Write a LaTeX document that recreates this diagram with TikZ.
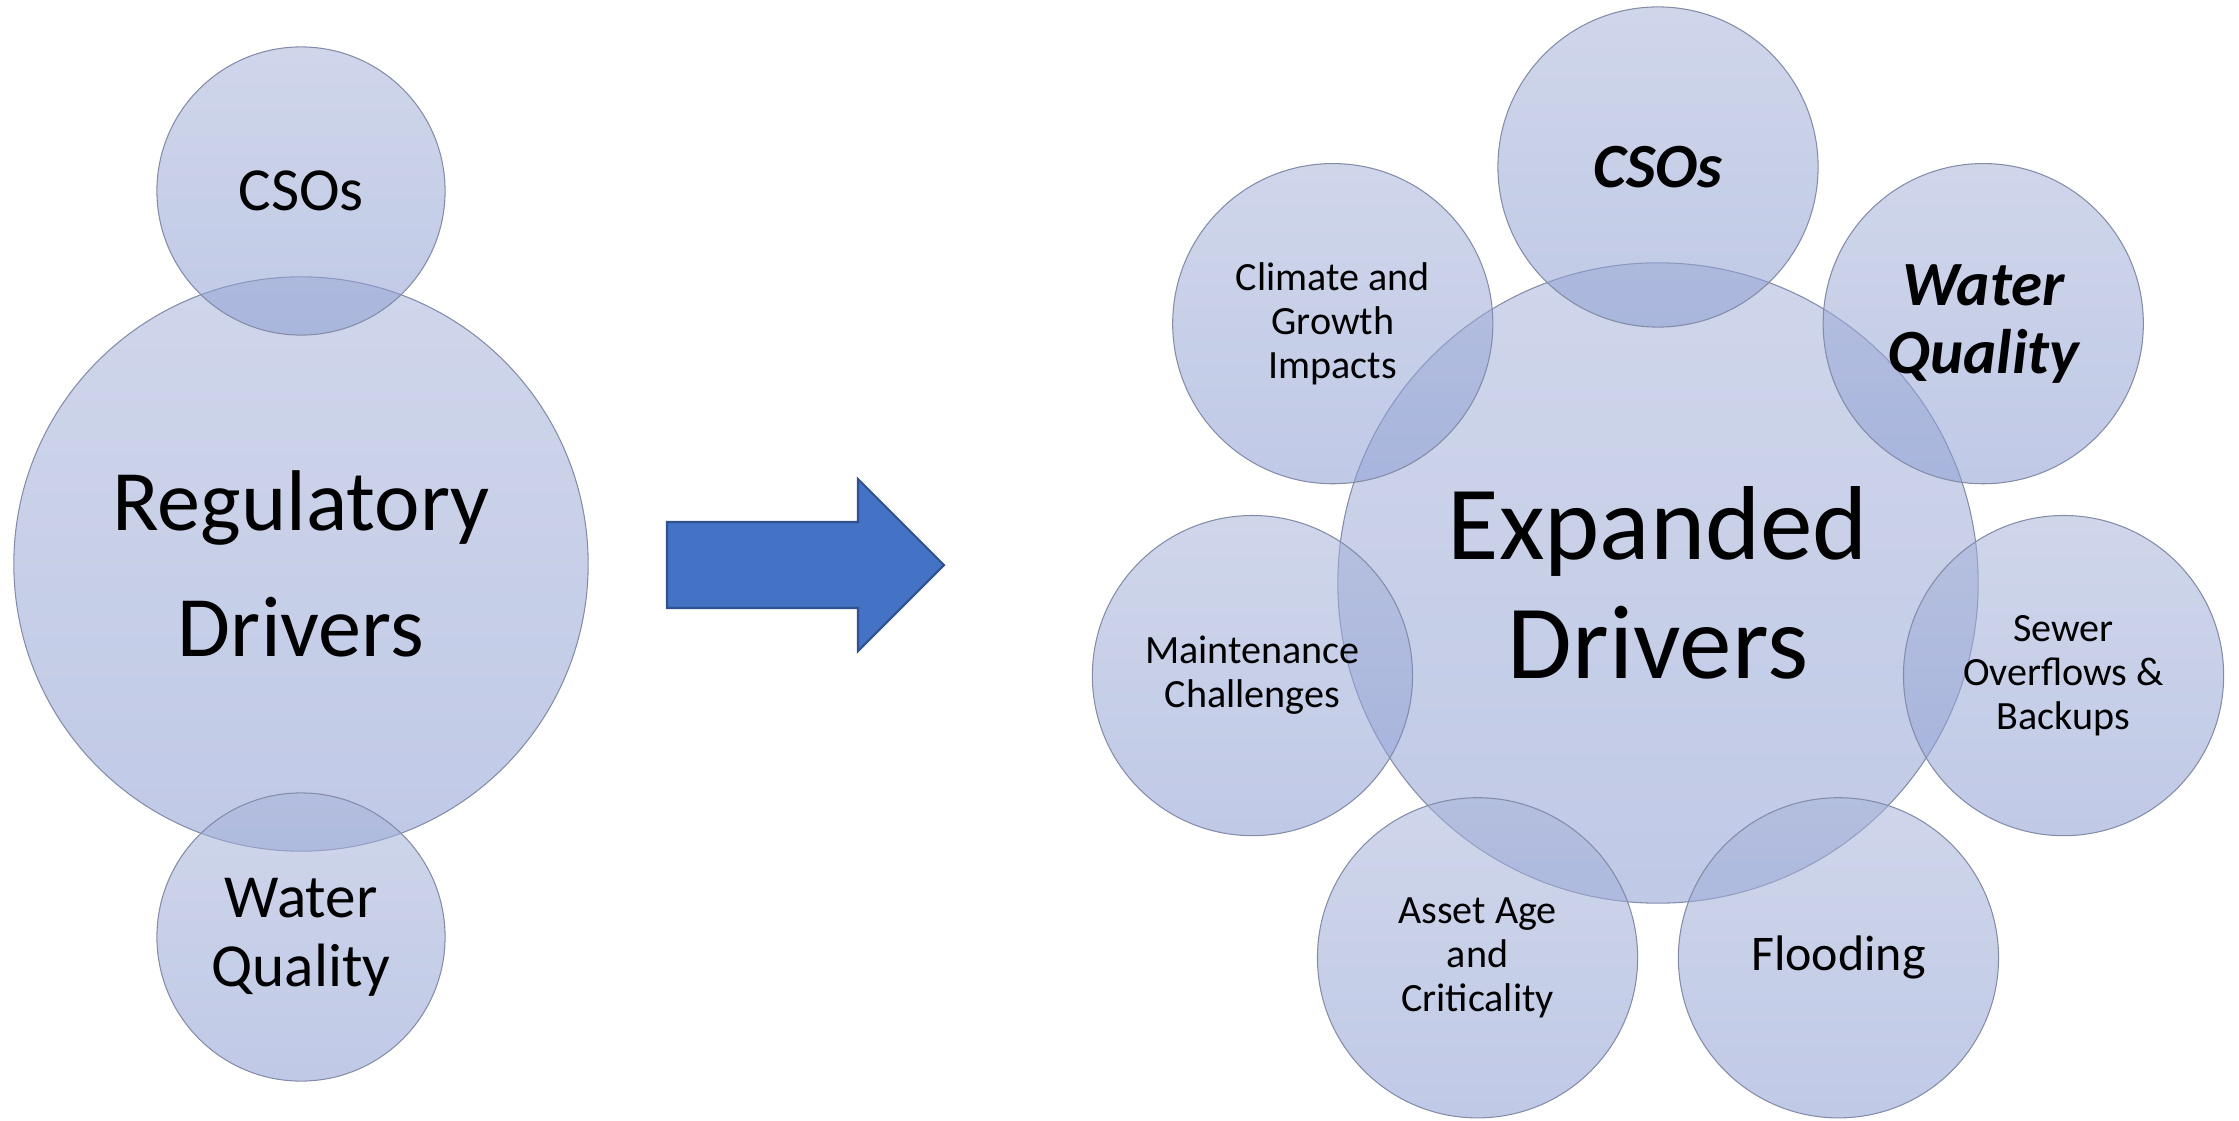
\documentclass[tikz,border=0pt]{standalone}
\usepackage{fontspec}
\setmainfont{Carlito}
\usetikzlibrary{calc}

\definecolor{ringtop}{RGB}{168,180,217}
\definecolor{ringbot}{RGB}{140,157,210}
\definecolor{ringline}{RGB}{132,140,168}
\definecolor{arrowfill}{RGB}{68,114,196}
\definecolor{arrowline}{RGB}{47,82,143}

\newcommand{\ringsmall}{\fontsize{11.4}{12.5}\selectfont}
\newcommand{\ringbold}{\fontsize{17.9}{19.3}\selectfont\bfseries\itshape}
\newcommand{\ringflood}{\fontsize{14.2}{15}\selectfont}

\begin{document}
\begin{tikzpicture}[x=0.01cm,y=0.01cm,
  ring/.style={circle,draw=ringline,line width=0.3pt,top color=ringtop,bottom color=ringbot,
    fill opacity=0.55,text opacity=1,align=center,inner sep=0pt}]
\useasboundingbox (0,0) rectangle (2239,1120);

% regulatory side
\node[ring,minimum size=5.74cm,font=\fontsize{24.5}{35.8}\selectfont] (Reg) at (301,556) {Regulatory\\Drivers};
\node[ring,minimum size=2.88cm,font=\fontsize{17.4}{19.6}\selectfont] (RegCSO) at (301,929) {CSOs};
\node[ring,minimum size=2.88cm,font=\fontsize{17.4}{19.6}\selectfont] (RegWQ) at (301,183) {Water\\Quality};

% block arrow
\draw[fill=arrowfill,draw=arrowline,line width=0.6pt] (667,598) -- (858,598) -- (858,641)
    -- (944,555) -- (858,469) -- (858,512) -- (667,512) -- cycle;

% expanded side
\node[ring,minimum size=6.4cm,font=\fontsize{29.9}{33.9}\selectfont] (Exp) at (1658,537) {Expanded\\Drivers};
\foreach \ang/\nm/\fnt/\txt in {90/ExpCSO/\ringbold/CSOs,
    38.57/ExpWQ/\ringbold/Water\\Quality,
    -12.86/ExpSewer/\ringsmall/Sewer\\Overflows \&\\Backups,
    -64.29/ExpFlood/\ringflood/Flooding,
    -115.71/ExpAsset/\ringsmall/Asset Age\\and\\Criticality,
    -167.14/ExpMaint/\ringsmall/Maintenance\\Challenges,
    141.43/ExpClimate/\ringsmall/Climate and\\Growth\\Impacts}
  \node[ring,minimum size=3.2cm,font=\fnt] (\nm) at ($(Exp)+(\ang:416)$) {\txt};
\end{tikzpicture}
\end{document}
